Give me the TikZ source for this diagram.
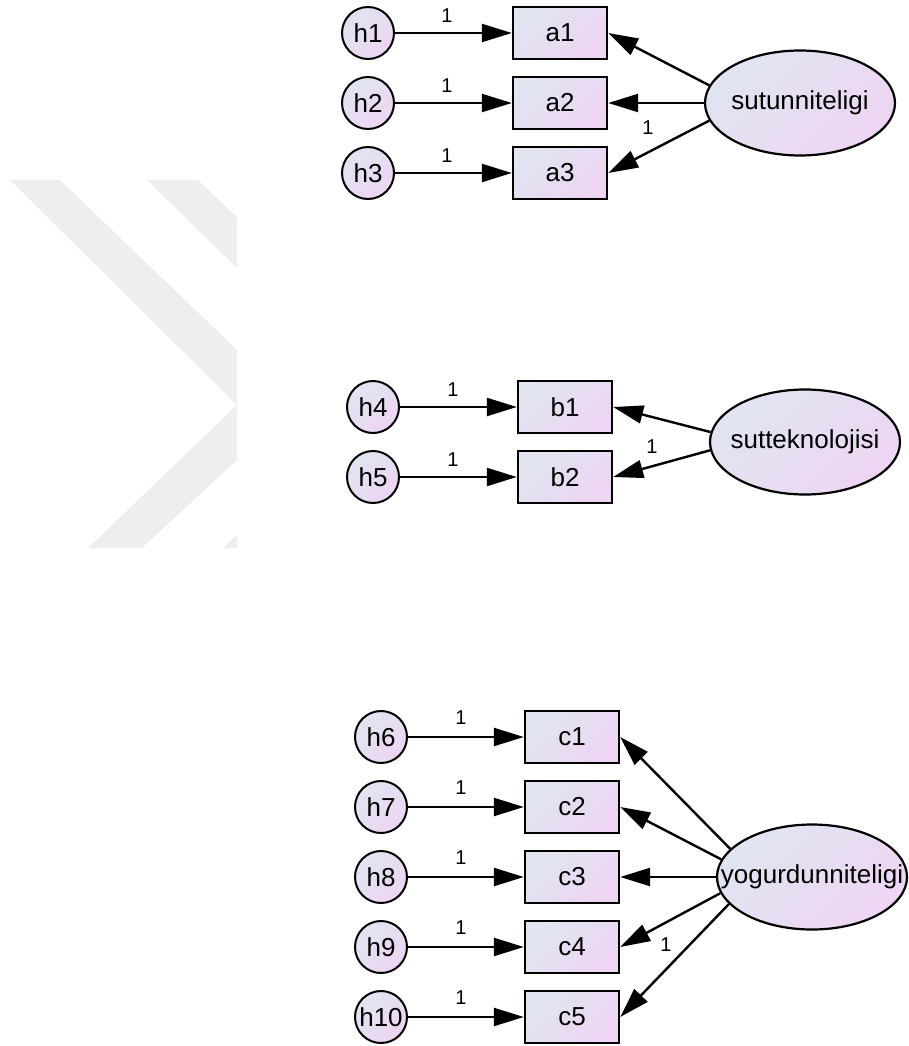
\documentclass[tikz,border=0pt]{standalone}
\usepackage{fontspec}
\setmainfont{Liberation Sans}
\usetikzlibrary{arrows.meta,shapes.geometric}
\definecolor{fillA}{RGB}{224,229,240}
\definecolor{fillB}{RGB}{238,213,243}
\definecolor{wmark}{RGB}{238,238,238}
\newcommand{\latname}[1]{\makebox[0pt]{#1}}

\begin{document}
\begin{tikzpicture}[x=1pt,y=-1pt,every node/.style={font=\fontsize{26}{30}\selectfont}]
    \tikzset{
      err/.style={draw,circle,line width=2pt,minimum size=52pt,inner sep=0pt,
        top color=fillA,bottom color=fillB,shading angle=45},
      obs/.style={draw,rectangle,line width=2.4pt,minimum width=94pt,
        minimum height=52pt,inner sep=0pt,top color=fillA,bottom color=fillB,
        shading angle=45},
      lat/.style={draw,ellipse,line width=2.2pt,minimum width=190pt,
        minimum height=105pt,inner sep=0pt,top color=fillA,bottom color=fillB,
        shading angle=45},
      wt/.style={font=\fontsize{20}{22}\selectfont,inner sep=0pt},
      arr/.style={-{Triangle[length=30pt,width=18pt]},line width=2.4pt}
    }
    \useasboundingbox (0,0) rectangle (909,1046);

    % watermark
    \fill[wmark] (10,180) -- (60,180) -- (237,350) -- (237,460) -- (142,548)
      -- (88,548) -- (237,405) -- cycle;
    \fill[wmark] (147,180) -- (198,180) -- (237,217) -- (237,268) -- cycle;
    \fill[wmark] (223,548) -- (237,535) -- (237,548) -- cycle;

    % sutunniteligi
    \node[err] (h1) at (368,33) {h1};
    \node[err] (h2) at (368,103) {h2};
    \node[err] (h3) at (368,173) {h3};
    \node[obs] (a1) at (560,33) {a1};
    \node[obs] (a2) at (560,103) {a2};
    \node[obs] (a3) at (560,173) {a3};
    \node[lat] (sut) at (800,103) {\latname{sutunniteligi}};
    \draw[arr] (h1) -- (a1);
    \draw[arr] (h2) -- (a2);
    \draw[arr] (h3) -- (a3);
    \draw[arr] (sut.169) -- (a1.east);
    \draw[arr] (sut.west) -- (a2.east);
    \draw[arr] (sut.191) -- (a3.east);
    \node[wt] (wa1) at (447,16) {1};
    \node[wt] (wa2) at (447,86) {1};
    \node[wt] (wa3) at (447,156) {1};
    \node[wt] (wsut) at (648,128) {1};

    % sutteknolojisi
    \node[err] (h4) at (373,407) {h4};
    \node[err] (h5) at (373,477) {h5};
    \node[obs] (b1) at (565,407) {b1};
    \node[obs] (b2) at (565,477) {b2};
    \node[lat] (tek) at (805,442) {\latname{sutteknolojisi}};
    \draw[arr] (h4) -- (b1);
    \draw[arr] (h5) -- (b2);
    \draw[arr] (tek.174.6) -- (b1.east);
    \draw[arr] (tek.185.4) -- (b2.east);
    \node[wt] (wb1) at (453,390) {1};
    \node[wt] (wb2) at (453,460) {1};
    \node[wt] (wtek) at (652,447) {1};

    % yogurdunniteligi
    \node[err] (h6) at (381,737) {h6};
    \node[err] (h7) at (381,807) {h7};
    \node[err] (h8) at (381,877) {h8};
    \node[err] (h9) at (381,947) {h9};
    \node[err] (h10) at (381,1017) {h10};
    \node[obs] (c1) at (572,737) {c1};
    \node[obs] (c2) at (572,807) {c2};
    \node[obs] (c3) at (572,877) {c3};
    \node[obs] (c4) at (572,947) {c4};
    \node[obs] (c5) at (572,1017) {c5};
    \node[lat] (yog) at (812,877) {\latname{yogurdunniteligi}};
    \draw[arr] (h6) -- (c1);
    \draw[arr] (h7) -- (c2);
    \draw[arr] (h8) -- (c3);
    \draw[arr] (h9) -- (c4);
    \draw[arr] (h10) -- (c5);
    \draw[arr] (yog.161.4) -- (c1.east);
    \draw[arr] (yog.169.4) -- (c2.east);
    \draw[arr] (yog.west) -- (c3.east);
    \draw[arr] (yog.190.6) -- (c4.east);
    \draw[arr] (yog.198.6) -- (c5.east);
    \node[wt] (wc1) at (461,718) {1};
    \node[wt] (wc2) at (461,788) {1};
    \node[wt] (wc3) at (461,858) {1};
    \node[wt] (wc4) at (461,928) {1};
    \node[wt] (wc5) at (461,998) {1};
    \node[wt] (wyog) at (666,945) {1};
\end{tikzpicture}
\end{document}
